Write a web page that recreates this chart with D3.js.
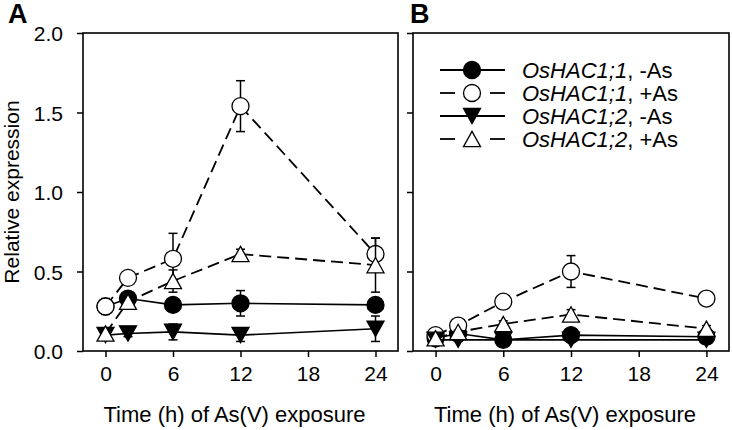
<!DOCTYPE html>
<html><head><meta charset="utf-8">
<script src="https://cdn.jsdelivr.net/npm/d3@7"></script>
<style>
body{margin:0;background:#fff}
text{font-family:"Liberation Sans",Arial,Helvetica,sans-serif;fill:#000}
</style>
</head><body>
<svg id="chart" width="732" height="430"></svg>
<script>
// ---- data ----
const hours = [0, 2, 6, 12, 24];
const xTickValues = [0, 6, 12, 18, 24];
const yTickValues = [0, 0.5, 1.0, 1.5, 2.0];
const seriesGene = ["OsHAC1;1", "OsHAC1;1", "OsHAC1;2", "OsHAC1;2"];
const seriesTreat = [", -As", ", +As", ", -As", ", +As"];
const panelLabels = ["A", "B"];

// Panel A (values, then standard errors)
const aHac11Minus    = [0.28, 0.33, 0.29, 0.30, 0.29];
const aHac11MinusErr = [0.03, 0.02, 0.03, 0.08, 0.03];
const aHac11Plus     = [0.28, 0.46, 0.58, 1.54, 0.61];
const aHac11PlusErr  = [0.05, 0.02, 0.16, 0.16, 0.10];
const aHac12Minus    = [0.10, 0.11, 0.12, 0.10, 0.14];
const aHac12MinusErr = [0.02, 0.02, 0.05, 0.04, 0.08];
const aHac12Plus     = [0.11, 0.31, 0.44, 0.61, 0.54];
const aHac12PlusErr  = [0.02, 0.03, 0.07, 0.03, 0.17];

// Panel B
const bHac11Minus    = [0.08, 0.11, 0.07, 0.10, 0.09];
const bHac11MinusErr = [0.01, 0.01, 0.01, 0.02, 0.01];
const bHac11Plus     = [0.10, 0.16, 0.31, 0.50, 0.33];
const bHac11PlusErr  = [0.01, 0.02, 0.03, 0.10, 0.02];
const bHac12Minus    = [0.07, 0.07, 0.07, 0.07, 0.07];
const bHac12MinusErr = [0.01, 0.01, 0.01, 0.01, 0.01];
const bHac12Plus     = [0.08, 0.12, 0.17, 0.23, 0.14];
const bHac12PlusErr  = [0.01, 0.01, 0.02, 0.03, 0.02];

// ---- styling ----
const styles = [
  {shape: "circle", fill: "#000", dash: null},
  {shape: "circle", fill: "#fff", dash: "12,6"},
  {shape: "triDown", fill: "#000", dash: null},
  {shape: "triUp", fill: "#fff", dash: "12,6"}
];

const svg = d3.select("#chart");
const plotTop = 33, plotBottom = 351;
const y = d3.scaleLinear().domain([0, 2]).range([plotBottom, plotTop]);

const circleSym = {draw(ctx, size){ const r = Math.sqrt(size/Math.PI); ctx.moveTo(r,0); ctx.arc(0,0,r,0,2*Math.PI); }};
const triUpSym = {draw(ctx, size){ const w = Math.sqrt(size), h = w*0.9; ctx.moveTo(0,-h/2); ctx.lineTo(w/2,h/2); ctx.lineTo(-w/2,h/2); ctx.closePath(); }};
const triDownSym = {draw(ctx, size){ const w = Math.sqrt(size), h = w*0.9; ctx.moveTo(0,h/2); ctx.lineTo(w/2,-h/2); ctx.lineTo(-w/2,-h/2); ctx.closePath(); }};
function symPath(shape){
  if (shape === "circle") return d3.symbol().type(circleSym).size(Math.PI*8.5*8.5)();
  if (shape === "triUp") return d3.symbol().type(triUpSym).size(17*17)();
  return d3.symbol().type(triDownSym).size(17*17)();
}

function drawPanel(idx, x0, x1, series, showYLabels, showLegend){
  const x = d3.scaleLinear().domain([-2, 26]).range([x0, x1]);
  const g = svg.append("g");

  // y axis
  const ya = g.append("g").attr("transform", `translate(${x0},0)`)
    .call(d3.axisLeft(y).tickValues(yTickValues).tickSize(6).tickPadding(14)
      .tickFormat(showYLabels ? d3.format(".1f") : () => ""));
  ya.select(".domain").remove();
  ya.selectAll("line").attr("stroke", "#000").attr("stroke-width", 1.5);
  ya.selectAll("text").style("font-size", "21px").attr("dy", "0.36em");

  // x axis
  const xa = g.append("g").attr("transform", `translate(0,${plotBottom})`)
    .call(d3.axisBottom(x).tickValues(xTickValues).tickSize(6).tickPadding(9).tickFormat(d3.format("d")));
  xa.select(".domain").remove();
  xa.selectAll("line").attr("stroke", "#000").attr("stroke-width", 1.5);
  xa.selectAll("text").style("font-size", "21px").attr("dy", "0.71em");

  // frame
  g.append("rect").attr("x", x0).attr("y", plotTop).attr("width", x1 - x0).attr("height", plotBottom - plotTop)
    .attr("fill", "none").attr("stroke", "#000").attr("stroke-width", 1.6);

  // x title
  g.append("text").attr("x", (x0 + x1) / 2 - 6).attr("y", 422).attr("text-anchor", "middle")
    .style("font-size", "22px").text("Time (h) of As(V) exposure");

  // panel label
  g.append("text").attr("x", idx === 0 ? 8 : 410).attr("y", 23)
    .style("font-size", "27px").style("font-weight", "bold").text(panelLabels[idx]);

  const line = d3.line().x((d, i) => x(hours[i])).y(d => y(d));

  series.forEach((s, si) => {
    const st = styles[si];
    const sg = g.append("g");
    sg.append("path").datum(s.v).attr("d", line).attr("fill", "none").attr("stroke", "#000")
      .attr("stroke-width", st.dash ? 1.8 : 1.6).attr("stroke-dasharray", st.dash);
    // error bars
    s.v.forEach((v, i) => {
      const e = s.e[i];
      const cx = x(hours[i]);
      sg.append("line").attr("x1", cx).attr("x2", cx).attr("y1", y(v - e)).attr("y2", y(v + e))
        .attr("stroke", "#000").attr("stroke-width", 1.5);
      [v - e, v + e].forEach(t => {
        sg.append("line").attr("x1", cx - 4.5).attr("x2", cx + 4.5).attr("y1", y(t)).attr("y2", y(t))
          .attr("stroke", "#000").attr("stroke-width", 1.5);
      });
    });
    sg.selectAll(".m").data(s.v).join("path")
      .attr("transform", (d, i) => `translate(${x(hours[i])},${y(d)})`)
      .attr("d", symPath(st.shape)).attr("fill", st.fill).attr("stroke", "#000").attr("stroke-width", 1.3);
  });

  if (showLegend) {
    const lx0 = 440, lx1 = 505, mx = 472, tx = 522, rows = [70, 93, 116, 139];
    styles.forEach((st, si) => {
      const ry = rows[si];
      const lg = g.append("g");
      if (st.dash) {
        lg.append("line").attr("x1", lx0).attr("x2", lx0 + 15).attr("y1", ry).attr("y2", ry).attr("stroke", "#000").attr("stroke-width", 1.8);
        lg.append("line").attr("x1", lx1 - 15).attr("x2", lx1).attr("y1", ry).attr("y2", ry).attr("stroke", "#000").attr("stroke-width", 1.8);
      } else {
        lg.append("line").attr("x1", lx0).attr("x2", lx1).attr("y1", ry).attr("y2", ry).attr("stroke", "#000").attr("stroke-width", 2);
      }
      lg.append("path").attr("transform", `translate(${mx},${ry})`).attr("d", symPath(st.shape))
        .attr("fill", st.fill).attr("stroke", "#000").attr("stroke-width", 1.3);
      const t = lg.append("text").attr("x", tx).attr("y", ry).attr("dy", "0.36em").style("font-size", "22px");
      t.append("tspan").style("font-style", "italic").text(seriesGene[si]);
      t.append("tspan").text(seriesTreat[si]);
    });
  }
}

drawPanel(0, 83, 398, [
  {v: aHac11Minus, e: aHac11MinusErr},
  {v: aHac11Plus, e: aHac11PlusErr},
  {v: aHac12Minus, e: aHac12MinusErr},
  {v: aHac12Plus, e: aHac12PlusErr}
], true, false);

drawPanel(1, 413, 729, [
  {v: bHac11Minus, e: bHac11MinusErr},
  {v: bHac11Plus, e: bHac11PlusErr},
  {v: bHac12Minus, e: bHac12MinusErr},
  {v: bHac12Plus, e: bHac12PlusErr}
], false, true);

// y title
svg.append("text").attr("transform", "translate(19,192) rotate(-90)").attr("text-anchor", "middle")
  .style("font-size", "21px").text("Relative expression");
</script>
</body></html>
